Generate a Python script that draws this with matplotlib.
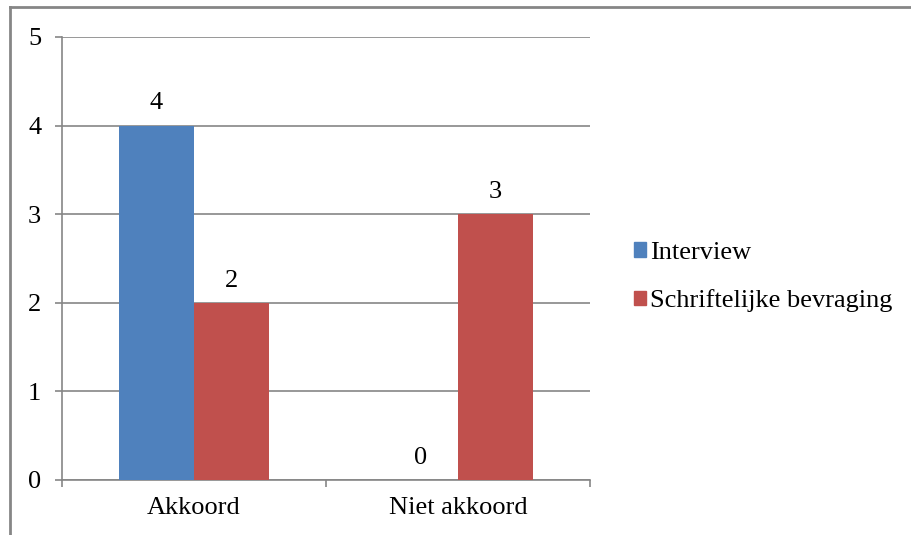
import numpy as np
import matplotlib.pyplot as plt
from matplotlib.lines import Line2D
from matplotlib.patches import Patch

categories = ["Akkoord", "Niet akkoord"]
interview = [4, 0]
schriftelijk = [2, 3]
series_names = ["Interview", "Schriftelijke bevraging"]
colors = ["#4F81BD", "#C0504D"]

plt.rcParams['font.family'] = ['Liberation Serif', 'DejaVu Serif']
plt.rcParams['font.size'] = 19
grey = "#868686"

fig = plt.figure(figsize=(9.11, 5.35), dpi=100)
ax = fig.add_axes([62 / 911, 55 / 535, 528 / 911, 443 / 535])

x = np.arange(len(categories))
w = 0.285
for vals, off, c, name in [(interview, -w / 2, colors[0], series_names[0]),
                            (schriftelijk, w / 2, colors[1], series_names[1])]:
    bars = ax.bar(x + off, vals, width=w, color=c, label=name, zorder=3)
    for b, v in zip(bars, vals):
        ax.annotate(str(v), (b.get_x() + b.get_width() / 2, v),
                    xytext=(0, 8), textcoords='offset points',
                    ha='center', va='bottom')

ax.set_xlim(-0.5, 1.5)
ax.set_ylim(0, 5)
ax.set_yticks(range(6))
ax.yaxis.grid(True, color=grey, linewidth=1.2, zorder=0)
ax.tick_params(axis='y', length=5, width=1.2, color=grey, pad=10)

ax.set_xticks([-0.5, 0.5, 1.5])
ax.set_xticklabels([])
ax.set_xticks(x, minor=True)
ax.set_xticklabels(categories, minor=True)
ax.tick_params(axis='x', which='major', length=5, width=1.2, color=grey)
ax.tick_params(axis='x', which='minor', length=0, pad=12)

for s in ['top', 'right']:
    ax.spines[s].set_visible(False)
for s in ['left', 'bottom']:
    ax.spines[s].set_color(grey)
    ax.spines[s].set_linewidth(1.2)

handles = [Patch(color=colors[0]), Patch(color=colors[1])]
fig.legend(handles, series_names, loc='center left',
           bbox_to_anchor=(621 / 911, 1 - 277 / 535), frameon=False,
           handlelength=0.45, handleheight=0.45, handletextpad=0.15,
           labelspacing=0.95, borderpad=0)

# outer chart border (left and top visible)
fig.add_artist(Line2D([9.5 / 911, 9.5 / 911], [0, 1 - 7 / 535], color=grey, linewidth=2,
                      transform=fig.transFigure))
fig.add_artist(Line2D([9.5 / 911, 1], [1 - 7 / 535, 1 - 7 / 535], color=grey, linewidth=2,
                      transform=fig.transFigure))

fig.savefig("out.png", dpi=100)
